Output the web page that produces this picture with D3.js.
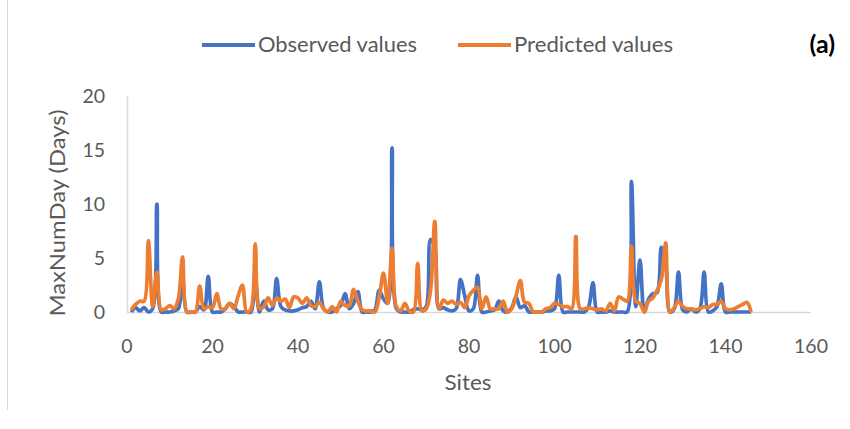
<!DOCTYPE html>
<head>
    <meta charset='utf-8'>
    <title>MaxNumDay observed vs predicted</title>
    <script src='https://d3js.org/d3.v7.min.js'></script>
    <style>
        html, body {
            margin: 0px;
            padding: 0px;
            background: white;
        }
        svg text {
            font-family: Lato, 'Open Sans', sans-serif;
            fill: #595959;
        }
    </style>
</head>
<body>
    <svg id='chart' width='850' height='429'></svg>
    <script>
        // values, one per site (1..146)
        var observed = [
            0, 0.4, 0.1, 0.4, 0, 0.3, 10.0, 0, 0, 0,
            0.1, 0.3, 3.0, 0, 0, 0, 0.5, 0.2, 3.3, 0,
            0, 0, 0.3, 0.8, 0.5, 0, 0, 0, 0, 3.0,
            0, 1.0, 0.2, 0.3, 3.1, 0.5, 0.2, 0.1, 0.1, 0.2,
            0.4, 0.5, 1.0, 0.3, 2.8, 0.3, 0, 0, 0.3, 0.6,
            1.7, 0.3, 0.8, 1.9, 0, 0, 0, 0.2, 2.0, 1.2,
            0.8, 15.2, 0.3, 0, 0, 0, 0.2, 0.3, 0.2, 0.5,
            6.7, 6.0, 0.3, 0.4, 0.2, 0.1, 0.3, 3.0, 1.5, 0.1,
            0.3, 3.4, 0, 0, 0.1, 0.2, 1.0, 0.1, 0, 0.4,
            1.4, 0.4, 0.6, 0, 0, 0, 0, 0.1, 0.1, 0.3,
            3.4, 0, 0, 0, 0, 0, 0, 0.5, 2.7, 0,
            0, 0, 0.1, 0, 0, 0, 0, 12.1, 0.5, 4.8,
            0, 1.2, 1.7, 1.8, 6.0, 4.5, 0, 0.3, 3.7, 0.2,
            0, 0.3, 0, 0.3, 3.7, 0, 0.1, 0.5, 2.6, 0,
            0, 0, 0, 0, 0, 0
        ];
        var predicted = [
            0.2, 0.7, 1.0, 1.0, 6.6, 0.5, 3.7, 0.2, 0.3, 0.6,
            0.3, 1.2, 5.1, 0, 0, 0, 2.4, 0.3, 0.5, 0.4,
            1.7, 0.3, 0.3, 0.8, 0.3, 1.5, 2.5, 0, 0.3, 6.3,
            0.3, 0.5, 1.3, 0.6, 1.3, 1.0, 1.2, 0.4, 1.4, 1.3,
            0.8, 1.3, 0.6, 0.5, 0.9, 0.3, 0, 0.5, 0, 1.0,
            0.6, 0.6, 2.1, 1.0, 0.2, 0.1, 0.1, 0, 1.4, 3.6,
            0.8, 5.9, 0.5, 0.1, 0.8, 0.1, 0, 4.5, 0.1, 0.3,
            2.0, 8.4, 0.3, 1.1, 0.8, 1.0, 0.7, 0.9, 0.4, 1.5,
            2.0, 2.3, 0.3, 1.4, 0.3, 0.3, 0.3, 1.0, 0, 0.3,
            1.5, 2.9, 0.9, 0.8, 0, 0, 0, 0.3, 0.4, 0.8,
            0.7, 0.5, 0.5, 0.3, 7.0, 0.3, 0.3, 0.4, 0.3, 0.2,
            0.3, 0.1, 0.8, 0.1, 1.4, 1.2, 1.0, 6.1, 1.0, 0.8,
            0, 1.0, 1.3, 2.0, 3.0, 6.4, 0, 0.4, 1.0, 0.5,
            0.3, 0.3, 0.2, 0.3, 0.5, 0.4, 0.7, 0.7, 1.0, 0.3,
            0.2, 0.3, 0.5, 0.7, 0.9, 0
        ];
        var seriesNames = ['Observed values', 'Predicted values'];
        var seriesColors = ['#4472C4', '#ED7D31'];
        var xTicks = [0, 20, 40, 60, 80, 100, 120, 140, 160];
        var yTicks = [0, 5, 10, 15, 20];

        var svg = d3.select('#chart');

        var x = d3.scaleLinear().domain([0, 160]).range([127, 811]);
        var y = d3.scaleLinear().domain([0, 20]).range([312, 96]);

        // outer frame edge on the left
        svg.append('line')
            .attr('x1', 7.5).attr('x2', 7.5)
            .attr('y1', 0).attr('y2', 410)
            .attr('stroke', '#d9d9d9').attr('stroke-width', 1);

        // axes lines
        svg.append('line')
            .attr('x1', x(0)).attr('x2', x(160))
            .attr('y1', y(0) + 0.5).attr('y2', y(0) + 0.5)
            .attr('stroke', '#d9d9d9').attr('stroke-width', 1.5);
        svg.append('line')
            .attr('x1', x(0) + 0.5).attr('x2', x(0) + 0.5)
            .attr('y1', y(20)).attr('y2', y(0))
            .attr('stroke', '#d9d9d9').attr('stroke-width', 1.5);

        // tick labels
        svg.selectAll('.xlab')
            .data(xTicks)
            .enter()
            .append('text')
            .attr('class', 'xlab')
            .attr('x', function(d) { return x(d); })
            .attr('y', 353)
            .attr('text-anchor', 'middle')
            .style('font-size', '19.5px')
            .text(function(d) { return d; });

        svg.selectAll('.ylab')
            .data(yTicks)
            .enter()
            .append('text')
            .attr('class', 'ylab')
            .attr('x', 105)
            .attr('y', function(d) { return y(d) + 7; })
            .attr('text-anchor', 'end')
            .style('font-size', '19.5px')
            .text(function(d) { return d; });

        // axis titles
        svg.append('text')
            .attr('x', 468)
            .attr('y', 390)
            .attr('text-anchor', 'middle')
            .style('font-size', '22px')
            .attr('textLength', 47)
            .attr('lengthAdjust', 'spacingAndGlyphs')
            .text('Sites');

        svg.append('text')
            .attr('transform', 'translate(65,213) rotate(-90)')
            .attr('text-anchor', 'middle')
            .style('font-size', '22px')
            .attr('textLength', 207)
            .attr('lengthAdjust', 'spacingAndGlyphs')
            .text('MaxNumDay (Days)');

        // lines, smoothed like the spreadsheet's smooth line
        var line = d3.line()
            .x(function(d, i) { return x(i + 1); })
            .y(function(d) { return y(d); })
            .curve(d3.curveCatmullRom.alpha(0.5));

        [observed, predicted].forEach(function(vals, k) {
            svg.append('path')
                .datum(vals)
                .attr('d', line)
                .attr('fill', 'none')
                .attr('stroke', seriesColors[k])
                .attr('stroke-width', 3.7)
                .attr('stroke-linejoin', 'round');
        });

        // legend
        var legendX = [202, 458];
        seriesNames.forEach(function(name, k) {
            svg.append('line')
                .attr('x1', legendX[k]).attr('x2', legendX[k] + 53)
                .attr('y1', 45).attr('y2', 45)
                .attr('stroke', seriesColors[k])
                .attr('stroke-width', 4);
            svg.append('text')
                .attr('x', legendX[k] + 56)
                .attr('y', 52)
                .style('font-size', '20.5px')
                .attr('textLength', 159)
                .attr('lengthAdjust', 'spacingAndGlyphs')
                .text(name);
        });

        svg.append('text')
            .attr('x', 835)
            .attr('y', 53)
            .attr('text-anchor', 'end')
            .style('font-size', '25px')
            .style('font-weight', 'bold')
            .style('fill', '#000')
            .text('(a)');
    </script>
</body>
